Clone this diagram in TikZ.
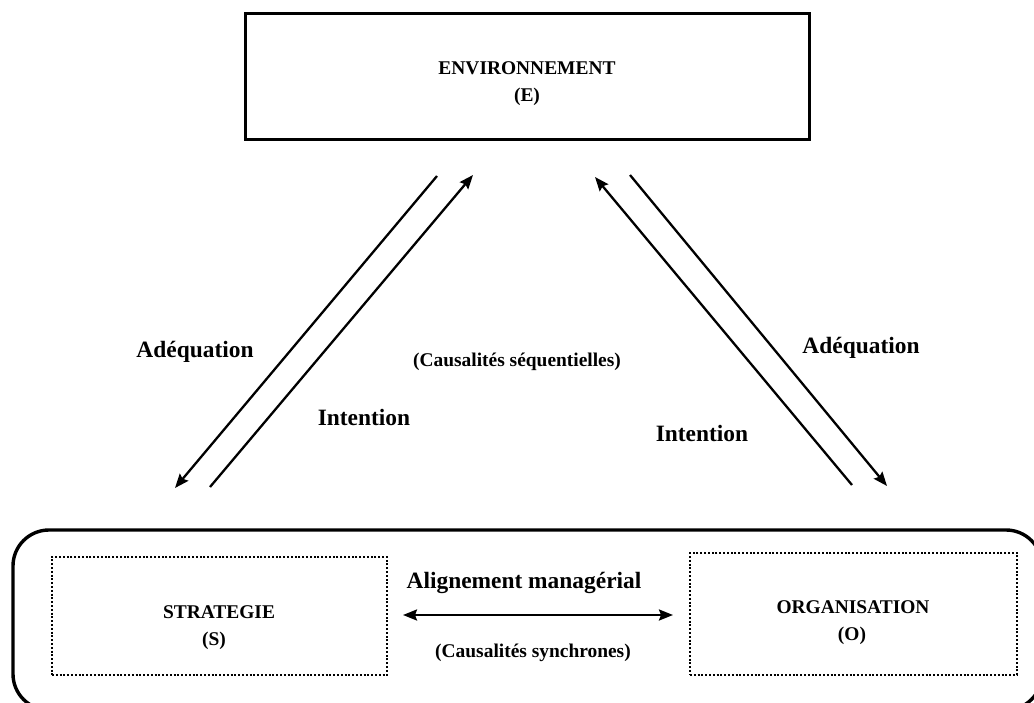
\documentclass[tikz,border=0pt]{standalone}
\usepackage{fontspec}
\setmainfont{Liberation Serif}
\usetikzlibrary{arrows.meta}
\begin{document}
\begin{tikzpicture}[x=1bp,y=-1bp,
  big/.style={font=\fontsize{23.5}{26}\selectfont\bfseries, inner sep=0pt, anchor=base},
  small/.style={font=\fontsize{19.5}{22}\selectfont\bfseries, inner sep=0pt, anchor=base},
  conn/.style={line width=2.3bp, -{Stealth[length=14bp,width=11bp,inset=2bp]}},
  dconn/.style={line width=2.3bp, {Stealth[length=14bp,width=11bp,inset=2bp]}-{Stealth[length=14bp,width=11bp,inset=2bp]}},
  dotbox/.style={draw, line width=2.2bp, dash pattern=on 2bp off 1.8bp, inner sep=0pt}]
\useasboundingbox (0,0) rectangle (1034,703);
% top box
\node[draw, line width=3bp, minimum width=563bp, minimum height=125bp, inner sep=0pt] (env) at (527.5,76.5) {};
\node[small] (envt) at (527,75) {ENVIRONNEMENT};
\node[small] (envl) at (527,102) {(E)};
% bottom rounded box
\draw[line width=3.4bp, rounded corners=36bp] (13,530) rectangle (1042,710);
\node[dotbox, minimum width=335bp, minimum height=118bp] (strat) at (219.5,616) {};
\node[dotbox, minimum width=327bp, minimum height=122bp] (org) at (853.5,614) {};
\node[small] (stratt) at (219,618) {STRATEGIE};
\node[small] (stratl) at (214,645) {(S)};
\node[small] (orgt) at (853,613) {ORGANISATION};
\node[small] (orgl) at (852,640) {(O)};
% coordinates for arrow ends
\coordinate (a1s) at (437,176);
\coordinate (a1e) at (175,488);
\coordinate (i1s) at (210,487);
\coordinate (i1e) at (473,175);
\coordinate (i2s) at (852,485);
\coordinate (i2e) at (595,177);
\coordinate (a2s) at (630,175);
\coordinate (a2e) at (887,486);
\coordinate (hs) at (403,615);
\coordinate (he) at (673,615);
\draw[conn] (a1s) -- (a1e);
\draw[conn] (i1s) -- (i1e);
\draw[conn] (i2s) -- (i2e);
\draw[conn] (a2s) -- (a2e);
\draw[dconn] (hs) -- (he);
% labels
\node[big] (ad1) at (195,357) {Adéquation};
\node[big] (in1) at (364,425) {Intention};
\node[small] (cs) at (517,366) {(Causalités séquentielles)};
\node[big] (ad2) at (861,353) {Adéquation};
\node[big] (in2) at (702,441) {Intention};
\node[big] (al) at (524,588) {Alignement managérial};
\node[small] (cy) at (533,657) {(Causalités synchrones)};
\end{tikzpicture}
\end{document}
